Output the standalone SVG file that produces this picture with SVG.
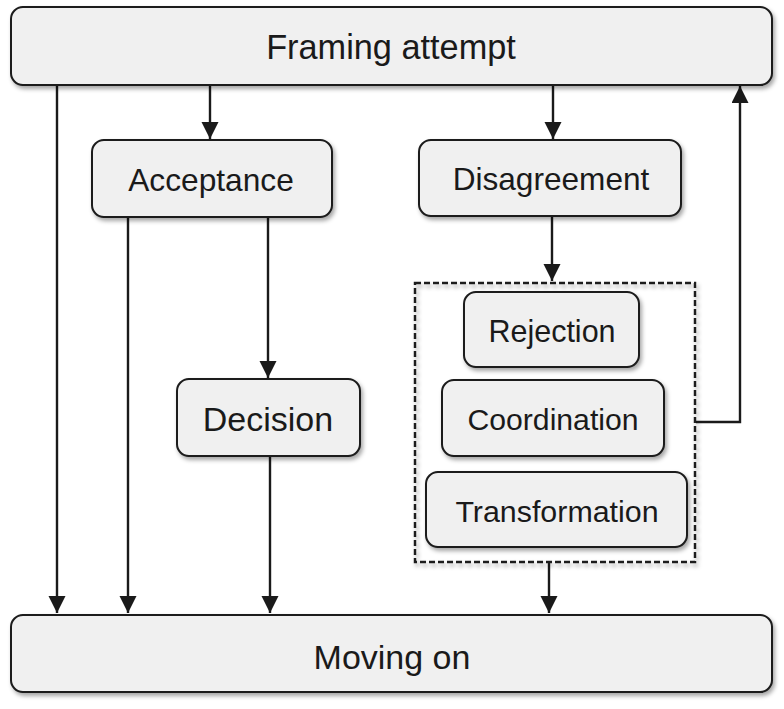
<svg xmlns="http://www.w3.org/2000/svg" width="784" height="709" viewBox="0 0 784 709">
<defs>
<filter id="sh" x="-10%" y="-10%" width="130%" height="140%">
<feDropShadow dx="2" dy="3" stdDeviation="2" flood-color="#000" flood-opacity="0.35"/>
</filter>
<marker id="ah" markerUnits="userSpaceOnUse" markerWidth="17" markerHeight="18" refX="17" refY="8.5" orient="auto">
<path d="M0,0 L17,8.5 L0,17 Z" fill="#1a1a1a"/>
</marker>
<style>
.box{fill:#f0f0f0;stroke:#1a1a1a;stroke-width:2;filter:url(#sh)}
.lbl{font-family:"Liberation Sans",Arial,sans-serif;fill:#1a1a1a;text-anchor:middle}
.con{fill:none;stroke:#1a1a1a;stroke-width:2.4;marker-end:url(#ah)}
.dash{fill:none;stroke:#1a1a1a;stroke-width:2.4;stroke-dasharray:6,3;filter:url(#sh)}
</style>
</defs>
<rect width="784" height="709" fill="#fff"/>
<g id="connectors">
<path class="con" d="M57,85 V613"/>
<path class="con" d="M210,85 V139"/>
<path class="con" d="M553,85 V139"/>
<path class="con" d="M128,217 V613"/>
<path class="con" d="M268,217 V378"/>
<path class="con" d="M270,456 V613"/>
<path class="con" d="M552,216 V281"/>
<path class="con" d="M549,562 V613"/>
<path class="con" d="M696,422 H740 V86"/>
</g>
<g id="framing">
<rect class="box" x="11" y="7" width="761" height="78" rx="12"/>
<text class="lbl" x="391" y="59" font-size="34.3">Framing attempt</text>
</g>
<g id="acceptance">
<rect class="box" x="92" y="140" width="240" height="77" rx="12"/>
<text class="lbl" x="211" y="191" font-size="31.7">Acceptance</text>
</g>
<g id="disagreement">
<rect class="box" x="419" y="140" width="262" height="76" rx="12"/>
<text class="lbl" x="551" y="190" font-size="31.6">Disagreement</text>
</g>
<g id="decision">
<rect class="box" x="177" y="379" width="183" height="77" rx="12"/>
<text class="lbl" x="268" y="431" font-size="34">Decision</text>
</g>
<g id="group">
<rect class="dash" x="415" y="283" width="280" height="279"/>
</g>
<g id="rejection">
<rect class="box" x="464" y="292" width="175" height="75" rx="12"/>
<text class="lbl" x="552" y="342" font-size="30.5">Rejection</text>
</g>
<g id="coordination">
<rect class="box" x="442" y="380" width="222" height="76" rx="12"/>
<text class="lbl" x="553" y="430" font-size="30.2">Coordination</text>
</g>
<g id="transformation">
<rect class="box" x="426" y="472" width="261" height="75" rx="12"/>
<text class="lbl" x="557" y="522" font-size="30.4">Transformation</text>
</g>
<g id="moving">
<rect class="box" x="11" y="615" width="761" height="77" rx="12"/>
<text class="lbl" x="392" y="669" font-size="34">Moving on</text>
</g>
</svg>
